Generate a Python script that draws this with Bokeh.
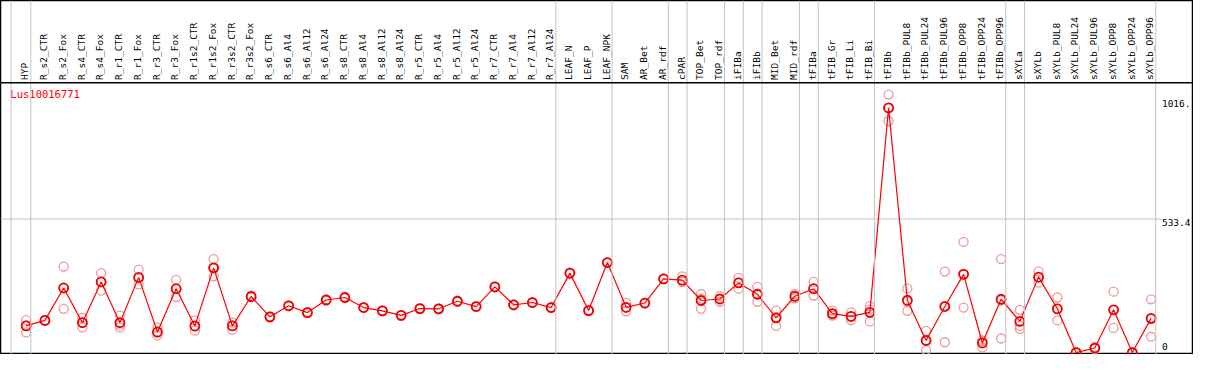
import math
from bokeh.plotting import figure
from bokeh.models import Range1d, Span, ColumnDataSource
from bokeh.core.properties import value
from bokeh.embed import file_html
from bokeh.resources import INLINE

gene = "Lus10016771"

categories = [
    "HYP", "R_s2_CTR", "R_s2_Fox", "R_s4_CTR", "R_s4_Fox", "R_r1_CTR", "R_r1_Fox",
    "R_r3_CTR", "R_r3_Fox", "R_r1s2_CTR", "R_r1s2_Fox", "R_r3s2_CTR", "R_r3s2_Fox",
    "R_s6_CTR", "R_s6_Al4", "R_s6_Al12", "R_s6_Al24", "R_s8_CTR", "R_s8_Al4",
    "R_s8_Al12", "R_s8_Al24", "R_r5_CTR", "R_r5_Al4", "R_r5_Al12", "R_r5_Al24",
    "R_r7_CTR", "R_r7_Al4", "R_r7_Al12", "R_r7_Al24", "LEAF_N", "LEAF_P", "LEAF_NPK",
    "SAM", "AR_Bet", "AR_rdf", "cPAR", "TOP_Bet", "TOP_rdf", "iFIBa", "iFIBb",
    "MID_Bet", "MID_rdf", "tFIBa", "tFIB_Gr", "tFIB_Li", "tFIB_Bi", "tFIBb",
    "tFIBb_PUL8", "tFIBb_PUL24", "tFIBb_PUL96", "tFIBb_OPP8", "tFIBb_OPP24",
    "tFIBb_OPP96", "sXYLa", "sXYLb", "sXYLb_PUL8", "sXYLb_PUL24", "sXYLb_PUL96",
    "sXYLb_OPP8", "sXYLb_OPP24", "sXYLb_OPP96",
]

means = [
    108, 130, 259, 121, 283, 121, 301, 84, 256, 108, 339, 108, 225,
    144, 188, 161, 211, 221, 181, 168, 150, 177, 176, 206, 185,
    263, 192, 201, 181, 318, 169, 360,
    182, 199, 295, 290, 209, 215, 279, 234,
    140, 226, 256, 157, 146, 162, 975,
    210, 50, 185, 313, 40, 214,
    126, 302, 176, 2, 20, 172, 2, 138,
]

replicates = [
    [131, 82, 110], [128, 132], [344, 257, 176], [140, 102, 121], [318, 248, 283],
    [149, 102, 112], [332, 273, 298], [102, 70, 80], [291, 223, 254], [130, 89, 105],
    [374, 305, 338], [121, 93, 110], [228, 222],
    [146, 142], [190, 186], [163, 159], [213, 209], [223, 219], [183, 179],
    [170, 166], [152, 148], [179, 175], [178, 174], [208, 204], [187, 183],
    [265, 261], [194, 190], [203, 199], [183, 179], [320, 316], [171, 167], [362, 358],
    [200, 166, 180], [201, 197], [297, 293], [305, 283, 283], [235, 176, 216],
    [226, 204, 215], [299, 256, 281], [263, 204, 235],
    [169, 108, 143], [235, 218, 225], [283, 229, 256], [169, 149, 153],
    [162, 131, 145], [187, 126, 173], [1028, 923, 975],
    [257, 168, 205], [88, 12, 50], [324, 43, 188], [442, 181, 316], [50, 22, 48],
    [374, 58, 210],
    [172, 108, 96], [325, 280, 301], [221, 130, 177], [2, 0, 4], [25, 18, 17],
    [244, 100, 172], [2, 0, 3], [214, 65, 135],
]

separators_after = [0, 28, 31, 34, 35, 37, 38, 39, 41, 42, 45, 52, 53, 60]
ytick_labels = ["1016.", "533.4", "0"]
grid_value = 533.4

# ---- layout (reference pixel geometry) ----
W, H = 1193, 354
REF_W, REF_H = 1209, 370
X0, DX = 26.0, 19.0
Y0, KY = 368.5, 0.2628


def rx(px):
    return (px - X0) / DX


def ry(py):
    return (Y0 - py) / KY


p = figure(width=W, height=H,
           x_range=Range1d(rx(0), rx(REF_W)),
           y_range=Range1d(ry(REF_H), ry(0)),
           output_backend="svg", toolbar_location=None,
           x_axis_location=None, y_axis_location=None,
           min_border=0, min_border_left=0, min_border_right=0,
           min_border_top=0, min_border_bottom=0)
p.grid.visible = False
p.outline_line_color = "black"
p.outline_line_width = 1.5
p.background_fill_color = "white"
p.border_fill_color = "white"

GRAY = "#c4c4c4"
for i in separators_after:
    p.add_layout(Span(location=i + 0.25, dimension="height",
                      line_color=GRAY, line_width=1))
p.add_layout(Span(location=rx(10.7), dimension="height",
                  line_color=GRAY, line_width=1))

p.segment(x0=[rx(0)], y0=[grid_value], x1=[rx(1177)], y1=[grid_value],
          line_color=GRAY, line_width=1)
p.add_layout(Span(location=ry(86), dimension="width",
                  line_color="black", line_width=1.5))

# replicates
rx_pts, ry_pts = [], []
for i, reps in enumerate(replicates):
    for v in reps:
        rx_pts.append(i)
        ry_pts.append(v)
p.scatter(rx_pts, ry_pts, marker="circle", size=9, fill_color=None,
          line_color="#ef9a9a", line_width=1.3)

idx = list(range(len(categories)))
p.line(idx, means, line_color="#ff0000", line_width=1.2)
p.scatter(idx, means, marker="circle", size=9, fill_color=None,
          line_color="#ee0000", line_width=1.8)

# category labels
src = ColumnDataSource(dict(x=[i - 0.07 for i in idx],
                            y=[ry(83)] * len(categories),
                            t=categories))
p.text(x="x", y="y", text="t", source=src, angle=math.pi / 2,
       text_align="left", text_baseline="middle",
       text_font=value("DejaVu Sans Mono"), text_font_size="9.5px",
       text_color="black")

# gene name
p.text(x=[rx(10)], y=[ry(98)], text=[gene], text_align="left",
       text_baseline="middle", text_font=value("DejaVu Sans Mono"),
       text_font_size="10.5px", text_color="#ff0000")

# y labels
p.text(x=[rx(1177)] * 3, y=[ry(108), ry(232), ry(362)], text=ytick_labels,
       text_align="left", text_baseline="middle",
       text_font=value("DejaVu Sans Mono"), text_font_size="9.5px",
       text_color="black")

open("out.html", "w").write(file_html(p, INLINE))
